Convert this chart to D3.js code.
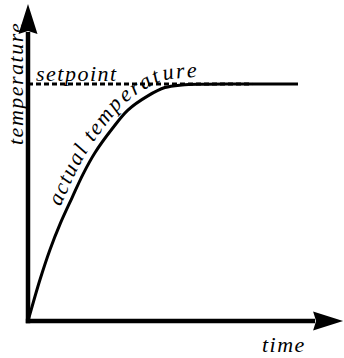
<!DOCTYPE html>
<html>
<head>
<meta charset="utf-8">
<script src="https://cdn.jsdelivr.net/npm/d3@7"></script>
</head>
<body style="margin:0">
<svg id="chart" width="344" height="358"></svg>
<script>
// ---- data ----
const time = [0, 0.44, 0.81, 1.19, 1.63, 2.04, 2.48, 3.11, 3.70, 4.44, 5.07, 5.70, 6.5, 7.5, 10];
const actualTemp = [0, 0.173, 0.30, 0.41, 0.52, 0.62, 0.71, 0.81, 0.89, 0.95, 0.985, 0.996, 0.999, 1, 1];
const setpointValue = [1];
const setpointSpan = [0, 8.3];
const axisMax = { time: 11.67, temp: 1.338 };
const labels = { x: "time", y: "temperature", setpoint: "setpoint", actual: "actual temperature" };

// ---- scales ----
const x = d3.scaleLinear().domain([0, 10]).range([28, 298]);
const y = d3.scaleLinear().domain([0, 1]).range([321, 84]);

const svg = d3.select("#chart");

function styleText(sel) {
  return sel.attr("font-family", "Liberation Serif")
    .attr("font-style", "italic")
    .attr("font-size", 22)
    .attr("letter-spacing", 1.5);
}

// axes with arrowheads
const ax0 = x(0), ay0 = y(0);
const xTip = x(axisMax.time), yTip = y(axisMax.temp);
const arrowLen = 30, arrowHalf = 9.5, notch = 3;

svg.append("line")
  .attr("x1", ax0).attr("y1", ay0 + 2.2)
  .attr("x2", ax0).attr("y2", yTip + arrowLen - 2)
  .attr("stroke", "#000").attr("stroke-width", 4.5);
svg.append("line")
  .attr("x1", ax0 - 2.2).attr("y1", ay0)
  .attr("x2", xTip - arrowLen + 2).attr("y2", ay0)
  .attr("stroke", "#000").attr("stroke-width", 4.5);

const yArrow = d3.path();
yArrow.moveTo(ax0, yTip);
yArrow.lineTo(ax0 - arrowHalf, yTip + arrowLen);
yArrow.lineTo(ax0, yTip + arrowLen - notch);
yArrow.lineTo(ax0 + arrowHalf, yTip + arrowLen);
yArrow.closePath();
svg.append("path").attr("d", yArrow.toString()).attr("fill", "#000");

const xArrow = d3.path();
xArrow.moveTo(xTip, ay0);
xArrow.lineTo(xTip - arrowLen, ay0 - arrowHalf);
xArrow.lineTo(xTip - arrowLen + notch, ay0);
xArrow.lineTo(xTip - arrowLen, ay0 + arrowHalf);
xArrow.closePath();
svg.append("path").attr("d", xArrow.toString()).attr("fill", "#000");

// actual temperature curve
const pts = time.map((t, i) => [t, actualTemp[i]]);
const line = d3.line().x(d => x(d[0])).y(d => y(d[1])).curve(d3.curveCatmullRom.alpha(0.5));
const curve = svg.append("path")
  .attr("d", line(pts))
  .attr("fill", "none")
  .attr("stroke", "#000")
  .attr("stroke-width", 3);

// setpoint dashed line
svg.append("line")
  .attr("x1", x(setpointSpan[0])).attr("x2", x(setpointSpan[1]))
  .attr("y1", y(setpointValue[0])).attr("y2", y(setpointValue[0]))
  .attr("stroke", "#000").attr("stroke-width", 3)
  .attr("stroke-dasharray", "5,3");

// labels
styleText(svg.append("text"))
  .attr("x", 36).attr("y", y(setpointValue[0]) - 3)
  .text(labels.setpoint);

styleText(svg.append("text"))
  .attr("transform", "translate(23,145) rotate(-90)")
  .text(labels.y);

styleText(svg.append("text"))
  .attr("x", 262).attr("y", 352)
  .text(labels.x);

// "actual temperature" laid out glyph by glyph along the curve
const node = curve.node();
const total = node.getTotalLength();
const gap = 1.5, lift = 7;
let s = 118;
const chars = Array.from(labels.actual);
const g = svg.append("g").attr("class", "curve-label");
chars.forEach(c => {
  const t = g.append("text")
    .attr("font-family", "Liberation Serif")
    .attr("font-style", "italic")
    .attr("font-size", 22)
    .attr("text-anchor", "middle")
    .text(c === " " ? "\u00a0" : c);
  const w = t.node().getComputedTextLength();
  const mid = Math.min(s + w / 2, total - 1);
  const p = node.getPointAtLength(mid);
  const pa = node.getPointAtLength(Math.max(mid - 1, 0));
  const pb = node.getPointAtLength(Math.min(mid + 1, total));
  const ang = Math.atan2(pb.y - pa.y, pb.x - pa.x);
  const nx = Math.sin(ang), ny = -Math.cos(ang);
  const px = p.x + nx * lift, py = p.y + ny * lift;
  t.attr("transform", `translate(${px},${py}) rotate(${ang * 180 / Math.PI})`);
  s += w + gap;
});
</script>
</body>
</html>
